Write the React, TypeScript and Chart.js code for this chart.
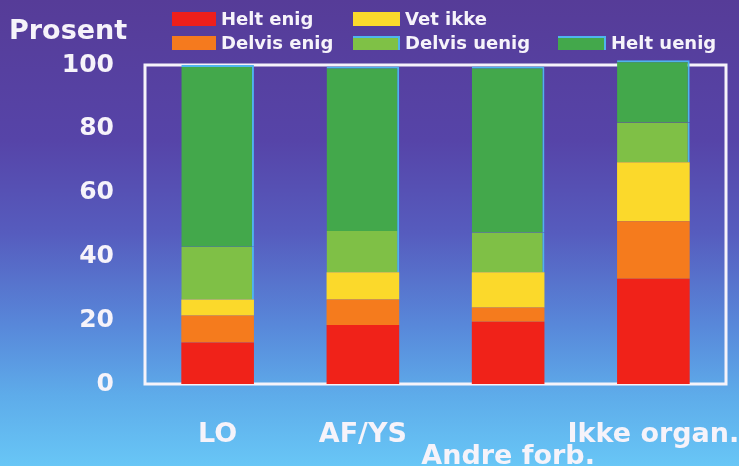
import React, { useEffect, useRef } from "react";
import { Chart, registerables } from "chart.js";

Chart.register(...registerables);

const categories: (string | string[])[] = ["LO", "AF/YS", ["", "Andre forb."], "Ikke organ."];
const heltEnig = [13, 18.5, 19.5, 33];
const delvisEnig = [8.5, 8, 4.5, 18];
const vetIkke = [5, 8.5, 11, 18.5];
const delvisUenig = [16.5, 13, 12.5, 12.5];
const heltUenig = [57, 51.5, 52, 19.5];
const yTicks = [0, 20, 40, 60, 80, 100];

const FONT = "'DejaVu Sans', 'Liberation Sans', Arial, sans-serif";
const WHITE = "#f6f3fa";
const EDGE_BLUE = "#4fb4ee";

const legendLayout = [
  { label: "Helt enig", color: "#ee1f1b", x: 172, y: 12, w: 44, edge: false },
  { label: "Vet ikke", color: "#fbd92c", x: 353, y: 12, w: 47, edge: false },
  { label: "Delvis enig", color: "#f57a1e", x: 172, y: 36, w: 44, edge: false },
  { label: "Delvis uenig", color: "#7fc146", x: 353, y: 36, w: 47, edge: true },
  { label: "Helt uenig", color: "#43a84b", x: 558, y: 36, w: 48, edge: true },
];

const decorPlugin = {
  id: "decor",
  beforeDraw(chart: any) {
    const { ctx, width, height } = chart;
    const g = ctx.createLinearGradient(0, 0, 0, height);
    g.addColorStop(0, "rgb(86,60,152)");
    g.addColorStop(0.3, "rgb(86,68,168)");
    g.addColorStop(0.5, "rgb(86,92,190)");
    g.addColorStop(0.7, "rgb(88,136,218)");
    g.addColorStop(0.85, "rgb(94,172,234)");
    g.addColorStop(1, "rgb(104,198,246)");
    ctx.save();
    ctx.fillStyle = g;
    ctx.fillRect(0, 0, width, height);
    ctx.restore();
  },
  beforeDatasetsDraw(chart: any) {
    const { ctx, chartArea } = chart;
    ctx.save();
    ctx.strokeStyle = WHITE;
    ctx.lineWidth = 3;
    ctx.strokeRect(chartArea.left, chartArea.top, chartArea.right - chartArea.left, chartArea.bottom - chartArea.top);
    ctx.restore();
  },
  afterDraw(chart: any) {
    const { ctx } = chart;
    ctx.save();
    ctx.fillStyle = WHITE;
    ctx.textBaseline = "alphabetic";
    ctx.textAlign = "left";
    ctx.font = `bold 27px ${FONT}`;
    ctx.fillText("Prosent", 9, 39);
    ctx.font = `bold 18px ${FONT}`;
    ctx.textBaseline = "middle";
    legendLayout.forEach((it) => {
      ctx.fillStyle = it.color;
      ctx.fillRect(it.x, it.y, it.w, 14);
      if (it.edge) {
        ctx.strokeStyle = EDGE_BLUE;
        ctx.lineWidth = 2;
        ctx.beginPath();
        ctx.moveTo(it.x, it.y + 1);
        ctx.lineTo(it.x + it.w - 1, it.y + 1);
        ctx.lineTo(it.x + it.w - 1, it.y + 14);
        ctx.stroke();
      }
      ctx.fillStyle = WHITE;
      ctx.fillText(it.label, it.x + it.w + 5, it.y + 8);
    });
    ctx.restore();
  },
};

export default function App() {
  const ref = useRef<HTMLCanvasElement>(null);
  useEffect(() => {
    document.body.style.margin = "0";
    const canvas = ref.current;
    if (!canvas) return;
    const mk = (label: string, data: number[], color: string, edge: boolean) => ({
      label,
      data,
      backgroundColor: color,
      borderColor: EDGE_BLUE,
      borderWidth: edge ? { top: label === "Helt uenig" ? 2 : 0, right: 2, left: 0, bottom: 0 } : 0,
      borderSkipped: false as any,
      clip: false as any,
      barPercentage: 0.5,
      categoryPercentage: 1,
    });
    const chart = new Chart(canvas, {
      type: "bar",
      data: {
        labels: categories,
        datasets: [
          mk("Helt enig", heltEnig, "#f02219", false),
          mk("Delvis enig", delvisEnig, "#f57b1d", false),
          mk("Vet ikke", vetIkke, "#fbd92b", false),
          mk("Delvis uenig", delvisUenig, "#7fc046", true),
          mk("Helt uenig", heltUenig, "#43a84b", true),
        ],
      },
      options: {
        animation: false,
        responsive: false,
        devicePixelRatio: 1,
        layout: { padding: { top: 65, right: 13, left: 0, bottom: 0 } },
        plugins: { legend: { display: false }, tooltip: { enabled: false }, title: { display: false } },
        scales: {
          x: {
            stacked: true,
            grid: { display: false, drawTicks: false },
            border: { display: false },
            ticks: {
              color: WHITE,
              font: { family: FONT, size: 27, weight: "bold", lineHeight: 0.82 },
              padding: 40,
              maxRotation: 0,
              minRotation: 0,
              autoSkip: false,
            },
            afterFit: (s: any) => {
              s.height = 82;
              s.paddingLeft = 0;
              s.paddingRight = 0;
            },
          },
          y: {
            stacked: true,
            min: 0,
            max: 100,
            afterBuildTicks: (s: any) => {
              s.ticks = yTicks.map((v) => ({ value: v }));
            },
            grid: { display: false, drawTicks: false },
            border: { display: false },
            ticks: {
              color: WHITE,
              font: { family: FONT, size: 25, weight: "bold" },
              padding: 31,
            },
            afterFit: (s: any) => {
              s.width = 145;
              s.paddingTop = 0;
              s.paddingBottom = 0;
            },
          },
        },
      },
      plugins: [decorPlugin],
    });
    return () => chart.destroy();
  }, []);
  return <canvas ref={ref} width={739} height={466} style={{ display: "block" }} />;
}
